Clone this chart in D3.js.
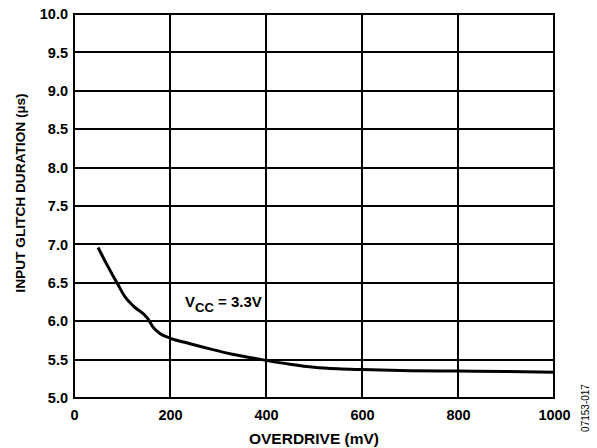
<!DOCTYPE html>
<html>
<head>
<meta charset="utf-8">
<script src="https://cdn.jsdelivr.net/npm/d3@7"></script>
<style>
  html, body { margin: 0; padding: 0; background: #fff; }
  svg { display: block; font-family: "Liberation Sans", Arial, sans-serif; }
</style>
</head>
<body>
<svg id="chart" width="597" height="448"></svg>
<script>
// Input glitch duration versus overdrive, VCC = 3.3 V
const overdrive = [50, 70, 92, 106, 125, 153, 165, 179, 200, 240, 283, 330, 373, 400, 450, 500, 550, 600, 700, 800, 900, 1000];
const glitchDuration = [6.96, 6.72, 6.47, 6.32, 6.19, 6.04, 5.92, 5.84, 5.78, 5.71, 5.64, 5.57, 5.52, 5.49, 5.44, 5.40, 5.38, 5.37, 5.355, 5.35, 5.345, 5.335];
const xTicks = [0, 200, 400, 600, 800, 1000];
const yTicks = [5.0, 5.5, 6.0, 6.5, 7.0, 7.5, 8.0, 8.5, 9.0, 9.5, 10.0];

const margin = { left: 74, top: 14, right: 43, bottom: 50 };
const width = 597, height = 448;
const svg = d3.select("#chart");

const x = d3.scaleLinear().domain([0, 1000]).range([margin.left, width - margin.right]);
const y = d3.scaleLinear().domain([5, 10]).range([height - margin.bottom, margin.top]);

// grid
const grid = svg.append("g").attr("stroke", "#000").attr("stroke-width", 1.2).attr("shape-rendering", "crispEdges");
grid.selectAll("line.h").data(yTicks).join("line")
  .attr("x1", x(0)).attr("x2", x(1000))
  .attr("y1", d => Math.round(y(d))).attr("y2", d => Math.round(y(d)));
grid.selectAll("line.v").data(xTicks.slice(1, -1)).join("line")
  .attr("y1", y(5)).attr("y2", y(10))
  .attr("x1", d => Math.round(x(d))).attr("x2", d => Math.round(x(d)));

// frame
svg.append("rect")
  .attr("x", x(0)).attr("y", y(10))
  .attr("width", x(1000) - x(0)).attr("height", y(5) - y(10))
  .attr("fill", "none").attr("stroke", "#000").attr("stroke-width", 2);

// axes
const xAxis = svg.append("g").attr("transform", `translate(0,${y(5)})`)
  .call(d3.axisBottom(x).tickValues(xTicks).tickSize(0).tickPadding(12).tickFormat(d3.format("d")));
const yAxis = svg.append("g").attr("transform", `translate(${x(0)},0)`)
  .call(d3.axisLeft(y).tickValues(yTicks).tickSize(0).tickPadding(6).tickFormat(d3.format(".1f")));
[xAxis, yAxis].forEach(a => {
  a.select(".domain").remove();
  a.selectAll("text").attr("font-size", 14.5).attr("font-weight", "bold").attr("fill", "#000")
    .attr("font-family", "Liberation Sans, Arial, sans-serif");
});

// curve
const line = d3.line().x((d, i) => x(overdrive[i])).y(d => y(d)).curve(d3.curveMonotoneX);
svg.append("path")
  .datum(glitchDuration)
  .attr("d", line)
  .attr("fill", "none").attr("stroke", "#000").attr("stroke-width", 3)
  .attr("stroke-linejoin", "round").attr("stroke-linecap", "butt");

// annotation
const note = svg.append("text").attr("x", 185).attr("y", 307)
  .attr("font-size", 15).attr("font-weight", "bold").attr("fill", "#000");
note.append("tspan").text("V");
note.append("tspan").attr("font-size", 13).attr("dy", 5).text("CC");
note.append("tspan").attr("dy", -5).text(" = 3.3V");

// axis titles
svg.append("text").attr("x", (x(0) + x(1000)) / 2).attr("y", 443.5)
  .attr("text-anchor", "middle").attr("font-size", 15.5).attr("font-weight", "bold")
  .text("OVERDRIVE (mV)");
svg.append("text").attr("transform", "translate(25,193) rotate(-90)")
  .attr("text-anchor", "middle").attr("font-size", 13.7).attr("font-weight", "bold")
  .text("INPUT GLITCH DURATION (µs)");
svg.append("text").attr("transform", "translate(589,408) rotate(-90)")
  .attr("text-anchor", "middle").attr("font-size", 10)
  .text("07153-017");
</script>
</body>
</html>
